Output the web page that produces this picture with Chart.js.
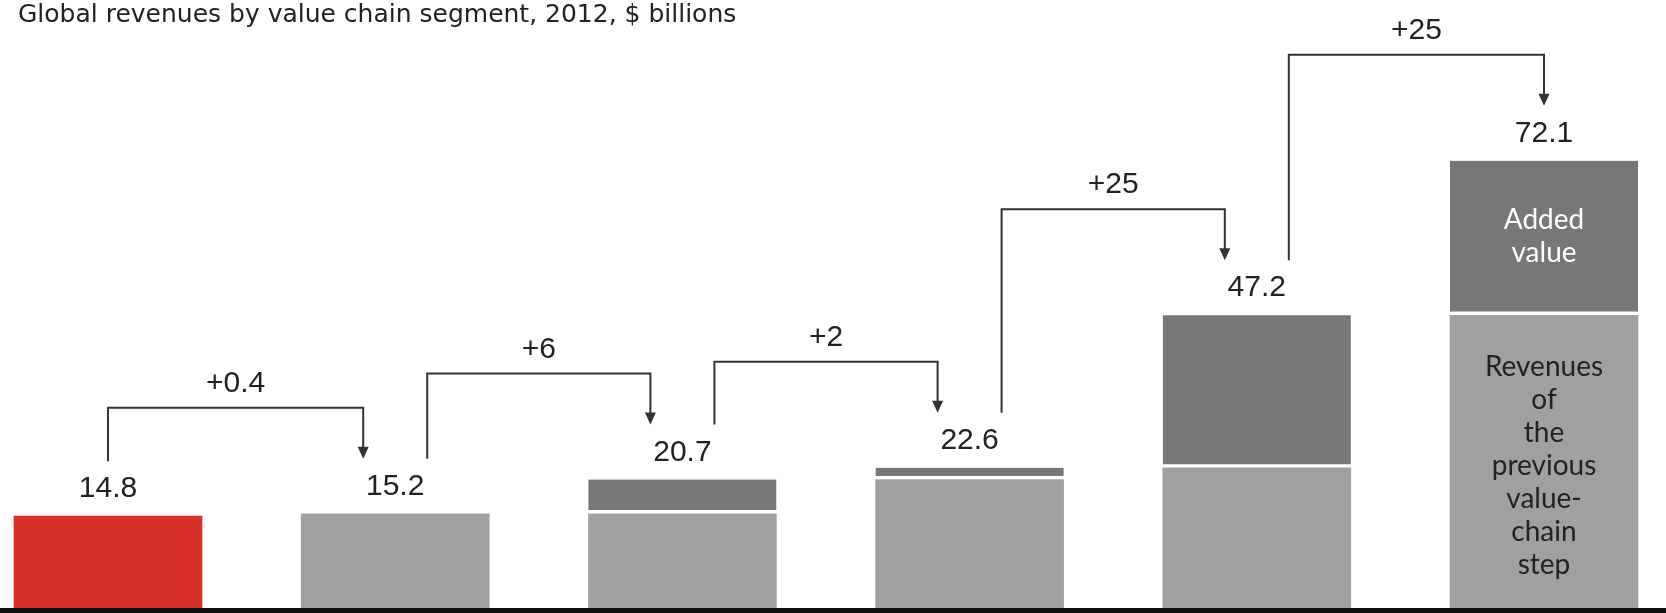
<!DOCTYPE html>
<html>
<head>
<meta charset="utf-8">
<script src="https://cdn.jsdelivr.net/npm/chart.js@4"></script>
<style>
  html, body { margin: 0; padding: 0; background: #fff; }
  #wrap { width: 1666px; height: 613px; position: relative; }
</style>
</head>
<body>
<div id="wrap"><canvas id="value-chain-chart"></canvas></div>
<script>
// DATA

const segments = ["Step 1", "Step 2", "Step 3", "Step 4", "Step 5", "Step 6"];
const previousRevenue = [14.8, 15.2, 15.2, 20.7, 22.6, 47.2];
const addedValue = [null, null, 5.5, 1.9, 24.6, 24.9];
const totalLabels = ["14.8", "15.2", "20.7", "22.6", "47.2", "72.1"];
const totals = [14.8, 15.2, 20.7, 22.6, 47.2, 72.1];
const stepLabels = ["+0.4", "+6", "+2", "+25", "+25"];
const addedText = ["Added", "value"];
const previousText = ["Revenues", "of", "the", "previous", "value-", "chain", "step"];

// COLOURS
const red = "#d9302a";
const lightGrey = "#a0a0a0";
const darkGrey = "#777777";
const ink = "#222222";
const numberFont = "30px 'Liberation Sans', Arial, sans-serif";

// brackets, totals, axis band and text inside the last bar
const annotations = {
  id: "annotations",
  afterDatasetsDraw(chart) {
    const ctx = chart.ctx;
    const x = chart.scales.x;
    const y = chart.scales.y;
    const area = chart.chartArea;
    const n = totals.length;

    ctx.save();

    // thick black base line
    ctx.fillStyle = "#111";
    ctx.fillRect(0, area.bottom, chart.width, chart.height - area.bottom);

    // totals above each bar
    ctx.fillStyle = ink;
    ctx.font = numberFont;
    ctx.textAlign = "center";
    ctx.textBaseline = "middle";
    totals.forEach((v, i) => {
      ctx.fillText(totalLabels[i], x.getPixelForValue(i), y.getPixelForValue(v) - 27);
    });

    // bracket arrows between bars
    ctx.strokeStyle = "#333";
    ctx.lineWidth = 2;
    for (let i = 0; i < n - 1; i++) {
      const fromTop = y.getPixelForValue(totals[i]);
      const toTop = y.getPixelForValue(totals[i + 1]);
      const x1 = i === 0 ? x.getPixelForValue(i) : x.getPixelForValue(i) + 32;
      const x2 = i + 1 === n - 1 ? x.getPixelForValue(i + 1) : x.getPixelForValue(i + 1) - 32;
      const yTop = toTop - 106;
      const y1 = fromTop - 55;
      const y2 = toTop - 55;

      ctx.beginPath();
      ctx.moveTo(x1, y1);
      ctx.lineTo(x1, yTop);
      ctx.lineTo(x2, yTop);
      ctx.lineTo(x2, y2 - 10);
      ctx.stroke();

      ctx.beginPath();
      ctx.moveTo(x2 - 5.5, y2 - 12);
      ctx.lineTo(x2 + 5.5, y2 - 12);
      ctx.lineTo(x2, y2);
      ctx.closePath();
      ctx.fillStyle = "#333";
      ctx.fill();

      ctx.fillStyle = ink;
      ctx.fillText(stepLabels[i], (x1 + x2) / 2, yTop - 24);
    }

    // legend text inside the last bar
    const last = n - 1;
    const darkBar = chart.getDatasetMeta(1).data[last];
    const lightBar = chart.getDatasetMeta(0).data[last];
    const lineH = 33;
    ctx.font = "28px Lato, 'Noto Sans', sans-serif";

    ctx.fillStyle = "#ffffff";
    let mid = (darkBar.y + darkBar.base - 4) / 2;
    addedText.forEach((t, k) => {
      ctx.fillText(t, darkBar.x, mid + (k - (addedText.length - 1) / 2) * lineH);
    });

    ctx.fillStyle = ink;
    mid = (lightBar.y + lightBar.base) / 2 + 4;
    previousText.forEach((t, k) => {
      ctx.fillText(t, lightBar.x, mid + (k - (previousText.length - 1) / 2) * lineH);
    });

    ctx.restore();
  }
};

const ctx = document.getElementById("value-chain-chart").getContext("2d");

const config = {
  type: "bar",
  data: {
    labels: segments,
    datasets: [
      {
        label: "Revenues of the previous value-chain step",
        data: previousRevenue,
        backgroundColor: (c) => (c.dataIndex === 0 ? red : lightGrey),
        borderWidth: 0,
        barThickness: 188,
        clip: false,
      },
      {
        label: "Added value",
        data: addedValue,
        backgroundColor: darkGrey,
        borderColor: "#ffffff",
        borderWidth: { top: 0, left: 0, right: 0, bottom: 4 },
        borderSkipped: false,
        barThickness: 188,
        clip: false,
      },
    ],
  },
  options: {
    responsive: true,
    maintainAspectRatio: false,
    animation: false,
    layout: { padding: { left: 18, right: 122, top: 0, bottom: 5 } },
    plugins: {
      legend: { display: false },
      tooltip: { enabled: false },
      title: {
        display: true,
        text: "Global revenues by value chain segment, 2012, $ billions",
        align: "start",
        color: ink,
        font: { family: "'DejaVu Sans', sans-serif", size: 25, weight: "normal" },
        padding: { top: 0, bottom: 16 },
      },
    },
    scales: {
      x: {
        stacked: true,
        offset: false,
        display: false,
      },
      y: {
        stacked: true,
        min: 0,
        max: 90.6,
        ticks: { display: false },
        grid: { display: false },
        border: { display: false },
        afterFit: (s) => { s.width = 90; },
      },
    },
  },
  plugins: [annotations],
};

const myChart = new Chart(ctx, config);
</script>
</body>
</html>
